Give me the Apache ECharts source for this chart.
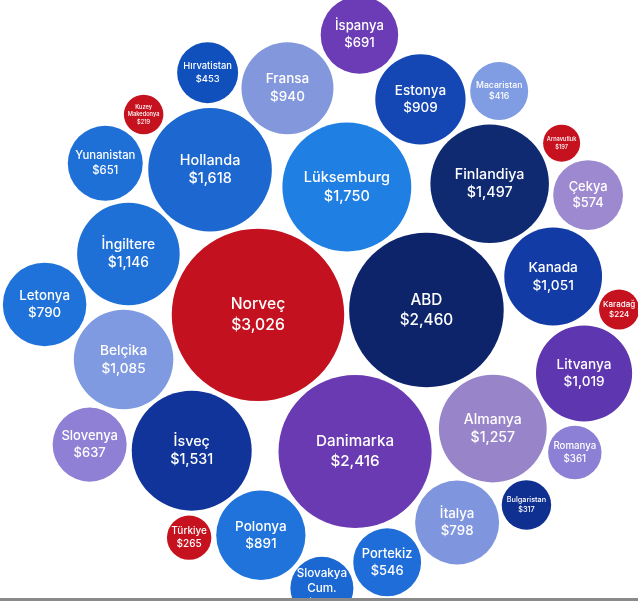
<!DOCTYPE html>
<html>
<head>
<meta charset="utf-8">
<script src="https://cdn.jsdelivr.net/npm/echarts@6/dist/echarts.min.js"></script>
<style>
html,body{margin:0;padding:0;background:#fff;}
#chart{width:638px;height:601px;}
</style>
</head>
<body>
<div id="chart"></div>
<script>
// ---------- DATA ----------
const countries = ['Norveç','ABD','Danimarka','Lüksemburg','Hollanda','İsveç','Finlandiya','Almanya','İngiltere','Belçika','Kanada','Litvanya','Fransa','Estonya','Polonya','İtalya','Letonya','İspanya','Yunanistan','Slovenya','Çekya','Portekiz','Slovakya\nCum.','Hırvatistan','Macaristan','Romanya','Bulgaristan','Türkiye','Karadağ','Kuzey\nMakedonya','Arnavutluk'];
const spending = [3026,2460,2416,1750,1618,1531,1497,1257,1146,1085,1051,1019,940,909,891,798,790,691,651,637,574,546,480,453,416,361,317,265,224,219,197];

// ---------- STYLE ----------
const colorOf = {
  'Norveç':'#c3111f','Türkiye':'#c6121f','Karadağ':'#c6121f','Kuzey\nMakedonya':'#c6121f','Arnavutluk':'#c6121f',
  'ABD':'#0d246a','Finlandiya':'#0f2a70','İsveç':'#11349a','Bulgaristan':'#0f3090','Kanada':'#133ba6','Estonya':'#1447b4','Hırvatistan':'#0f50bd',
  'Lüksemburg':'#1f7fe2','Hollanda':'#1c68d0','İngiltere':'#1e6fd6','Yunanistan':'#1f70d6','Letonya':'#1f72d9','Polonya':'#1f73db','Portekiz':'#1e6dd8','Slovakya\nCum.':'#1c68d2',
  'Danimarka':'#6a3ab2','İspanya':'#6b3cb5','Litvanya':'#5e36b0',
  'Almanya':'#9784c9','Çekya':'#9c89d0','Romanya':'#8b80d6','Slovenya':'#8f80d6',
  'Fransa':'#8398dc','Belçika':'#7f9ae0','Macaristan':'#809ce2','İtalya':'#7f96df'
};
const K = 1.653;       // px per sqrt(value)
const SHRINK = 4.7;    // drawn radius = K*sqrt(v) - SHRINK
const GAP = 2.4;       // half gap between circles
const W = 638, H = 601;

// ---------- circle packing (front-chain, as in d3.packSiblings) ----------
function place(b, a, c) {
  var dx = b.x - a.x, x, a2, dy = b.y - a.y, y, b2, d2 = dx*dx + dy*dy;
  if (d2) {
    a2 = a.r + c.r; a2 *= a2; b2 = b.r + c.r; b2 *= b2;
    if (a2 > b2) {
      x = (d2 + b2 - a2) / (2*d2); y = Math.sqrt(Math.max(0, b2/d2 - x*x));
      c.x = b.x - x*dx - y*dy; c.y = b.y - x*dy + y*dx;
    } else {
      x = (d2 + a2 - b2) / (2*d2); y = Math.sqrt(Math.max(0, a2/d2 - x*x));
      c.x = a.x + x*dx - y*dy; c.y = a.y + x*dy + y*dx;
    }
  } else { c.x = a.x + c.r; c.y = a.y; }
}
function intersects(a, b) { var dr = a.r + b.r - 1e-6, dx = b.x - a.x, dy = b.y - a.y; return dr > 0 && dr*dr > dx*dx + dy*dy; }
function score(node) { var a = node._, b = node.next._, ab = a.r + b.r, dx = (a.x*b.r + b.x*a.r)/ab, dy = (a.y*b.r + b.y*a.r)/ab; return dx*dx + dy*dy; }
function Node(c) { this._ = c; this.next = null; this.previous = null; }
function packSiblings(circles) {
  var n = circles.length, a, b, c, aa, ca, i, j, k, sj, sk;
  a = circles[0]; a.x = 0; a.y = 0; if (n < 2) return;
  b = circles[1]; a.x = -b.r; b.x = a.r; b.y = 0; if (n < 3) return;
  place(b, a, c = circles[2]);
  a = new Node(a); b = new Node(b); c = new Node(c);
  a.next = c.previous = b; b.next = a.previous = c; c.next = b.previous = a;
  pack: for (i = 3; i < n; ++i) {
    place(a._, b._, c = circles[i]); c = new Node(c);
    j = b.next; k = a.previous; sj = b._.r; sk = a._.r;
    do {
      if (sj <= sk) {
        if (intersects(j._, c._)) { b = j; a.next = b; b.previous = a; --i; continue pack; }
        sj += j._.r; j = j.next;
      } else {
        if (intersects(k._, c._)) { a = k; a.next = b; b.previous = a; --i; continue pack; }
        sk += k._.r; k = k.previous;
      }
    } while (j !== k.next);
    c.previous = a; c.next = b; a.next = b.previous = b = c;
    aa = score(a);
    while ((c = c.next) !== b) { if ((ca = score(c)) < aa) { a = c; aa = ca; } }
    b = a.next;
  }
}
// gentle relaxation: stronger vertical pull than horizontal, then collision resolve
function relax(nodes, iters, gx, gy) {
  for (let it = 0; it < iters; it++) {
    let sx = 0, sy = 0, sw = 0;
    nodes.forEach(n => { const w = n.r*n.r; sx += n.x*w; sy += n.y*w; sw += w; });
    const mx = sx/sw, my = sy/sw;
    nodes.forEach(n => { n.x += (mx - n.x)*gx; n.y += (my - n.y)*gy; });
    for (let pass = 0; pass < 4; pass++) {
      for (let i = 0; i < nodes.length; i++) for (let j = i+1; j < nodes.length; j++) {
        const a = nodes[i], b = nodes[j];
        const dx = b.x - a.x, dy = b.y - a.y, d = Math.hypot(dx, dy), m = a.r + b.r;
        if (d < m) {
          const o = (m - d)/d, wa = a.r*a.r, wb = b.r*b.r, t = wb/(wa + wb);
          a.x -= dx*o*t; a.y -= dy*o*t; b.x += dx*o*(1-t); b.y += dy*o*(1-t);
        }
      }
    }
  }
}

const circles = spending.map(v => ({ r: K*Math.sqrt(v) - SHRINK + GAP }));
packSiblings(circles);
relax(circles, 40, 0.004, 0.012);
let minX=Infinity,maxX=-Infinity,minY=Infinity,maxY=-Infinity;
circles.forEach(c=>{minX=Math.min(minX,c.x-c.r);maxX=Math.max(maxX,c.x+c.r);minY=Math.min(minY,c.y-c.r);maxY=Math.max(maxY,c.y+c.r);});
const cx = (minX+maxX)/2, cy = (minY+maxY)/2;
const targetCx = 321, targetCy = 308;
const xMin = cx - targetCx, xMax = xMin + W;
const yMin = cy - targetCy, yMax = yMin + H;

const chart = echarts.init(document.getElementById('chart'), null, {renderer:'canvas'});
const measureCtx = document.createElement('canvas').getContext('2d');
function textW(t, fs) { measureCtx.font = '500 ' + fs + 'px Inter'; return Math.max.apply(null, t.split('\n').map(s => measureCtx.measureText(s).width)); }

chart.setOption({
  animation:false,
  grid:{left:0,right:0,top:0,bottom:0},
  xAxis:{type:'value',min:xMin,max:xMax,show:false},
  yAxis:{type:'value',min:yMin,max:yMax,inverse:true,show:false},
  series:[{
    type:'custom',
    coordinateSystem:'cartesian2d',
    data: countries.map((name,i)=>[circles[i].x, circles[i].y, circles[i].r - GAP, spending[i]]),
    renderItem:function(params, api){
      const i = params.dataIndex;
      const p = api.coord([api.value(0), api.value(1)]);
      const rr = api.size([api.value(2), 0])[0];
      const name = countries[i];
      const val = '$' + spending[i].toLocaleString('en-US');
      const txt = name + '\n' + val;
      let fs = Math.min(16, 11 + rr*0.055);
      const w = textW(txt, fs);
      fs = Math.min(fs, fs * (0.8*2*rr) / w);
      return {
        type:'group',
        children:[
          {type:'circle', shape:{cx:p[0], cy:p[1], r:rr}, style:{fill:colorOf[name]}},
          {type:'text', x:p[0], y:p[1], style:{text:txt, fill:'#fff', font:'500 '+fs.toFixed(1)+'px Inter', align:'center', verticalAlign:'middle', lineHeight:fs*1.3}}
        ]
      };
    }
  }],
  graphic:[{type:'rect', left:0, top:598, shape:{width:638, height:3}, style:{fill:'#8a8a8a'}, z:100}]
});
</script>
</body>
</html>
